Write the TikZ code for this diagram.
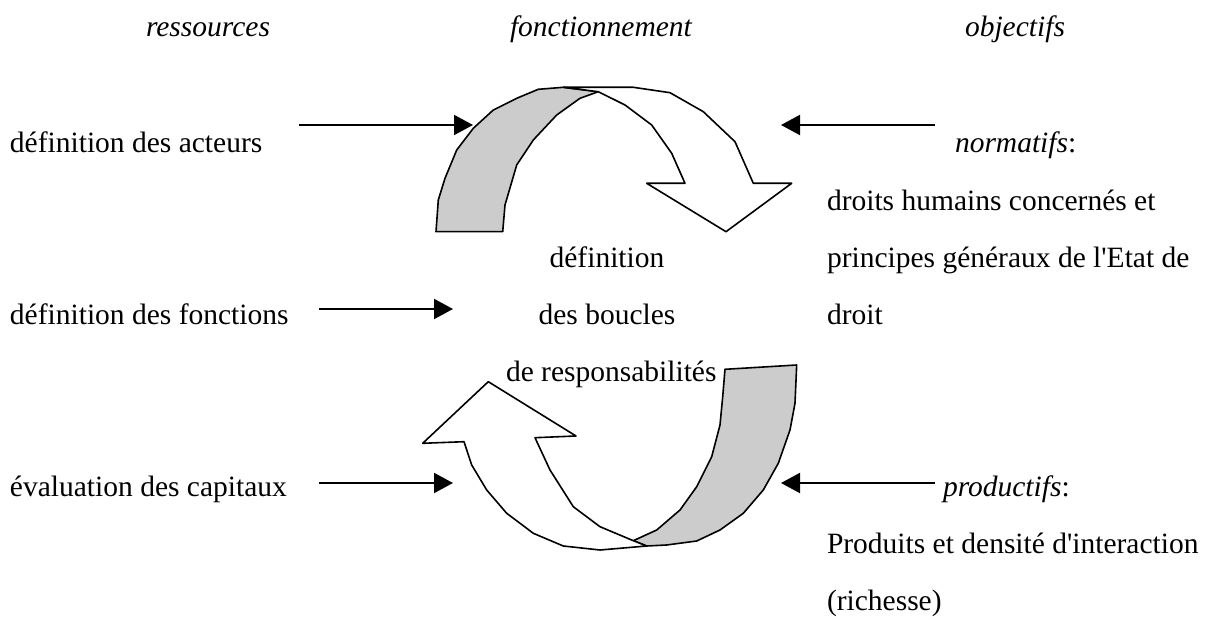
\documentclass[tikz,border=0pt]{standalone}
\usepackage{fontspec}
\setmainfont{Liberation Serif}
\usetikzlibrary{arrows.meta}
\definecolor{bandgrey}{HTML}{CCCCCC}
\begin{document}
\begin{tikzpicture}[x=0.5pt,y=-0.5pt,
  font=\fontsize{14.75}{17}\selectfont,
  txt/.style={inner sep=0pt, outer sep=0pt},
  conn/.style={line width=1pt, -{Triangle[length=9.5pt,width=10pt]}},
  band/.style={draw=black, line width=0.8pt, line join=round}]
\useasboundingbox (0,0) rectangle (1207,620);

% upper twisted arrow
\filldraw[band, fill=bandgrey] (436,231.7) -- (438.3,200) -- (445,178.3) -- (456.7,150) -- (473.3,128.3)
  -- (493.3,110) -- (516.7,98.3) -- (538.3,89.3) -- (563.3,87.3) -- (598.3,91.7) -- (580,98.3)
  -- (556.7,115) -- (533.3,140) -- (516.7,165) -- (505,205) -- (502.7,231.7) -- cycle;
\filldraw[band, fill=white] (563.3,87.3) -- (633.3,87.3) -- (670,92.7) -- (703.3,111.7) -- (735,141.7)
  -- (753.3,183.3) -- (791.7,183.3) -- (726,231.7) -- (646.7,183.3) -- (685,183.3) -- (671.7,153.3)
  -- (651.7,125) -- (625,105) -- (598.3,91.7) -- cycle;

% lower twisted arrow
\filldraw[band, fill=bandgrey] (725,369.3) -- (796.7,365) -- (795,403.3) -- (790,430) -- (778.3,463.3)
  -- (763.3,490) -- (743.3,513.3) -- (720,530) -- (696.7,541) -- (666.7,545) -- (646.7,546)
  -- (633.3,540.7) -- (656.7,530) -- (680,510) -- (696.7,486.7) -- (711.7,456.7) -- (720,425)
  -- (722.7,396.7) -- cycle;
\filldraw[band, fill=white] (488.3,381.7) -- (576,436) -- (535,437.7) -- (550,470) -- (573.3,506.7)
  -- (600,526.7) -- (633.3,540.7) -- (646.7,546) -- (600,550) -- (563.3,546) -- (533.3,533.3)
  -- (506.7,513.3) -- (486.7,490) -- (471.7,465) -- (464,441.7) -- (422.7,443.3) -- cycle;

% headers
\node[txt, anchor=base] (hres) at (208,37) {\itshape ressources};
\node[txt, anchor=base west] (hfon) at (510,37) {\itshape fonctionnement};
\node[txt, anchor=base] (hobj) at (1015,37) {\itshape objectifs};

% left column
\node[txt, anchor=base west] (acteurs) at (10,153) {définition des acteurs};
\node[txt, anchor=base west] (fonctions) at (10,325) {définition des fonctions};
\node[txt, anchor=base west] (capitaux) at (10,497) {évaluation des capitaux};

% centre
\node[txt, anchor=base] (c1) at (607,268) {définition};
\node[txt, anchor=base] (c2) at (607,325) {des boucles};
\node[txt, anchor=base west] (c3) at (506,382) {de responsabilités};

% right column
\node[txt, anchor=base west] (norm) at (955,153) {\textit{normatifs}:};
\node[txt, anchor=base west] (r1) at (827,211) {droits humains concernés et};
\node[txt, anchor=base west] (r2) at (827,268) {principes généraux de l\textquotesingle Etat de};
\node[txt, anchor=base west] (r3) at (827,325) {droit};
\node[txt, anchor=base west] (prod) at (943,497) {\textit{productifs}:};
\node[txt, anchor=base west] (r4) at (827,554) {Produits et densité d\textquotesingle interaction};
\node[txt, anchor=base west] (r5) at (827,611) {(richesse)};

% connectors
\coordinate (a1s) at (299,125); \coordinate (a1e) at (473,125);
\coordinate (a2s) at (319,309); \coordinate (a2e) at (453,309);
\coordinate (a3s) at (319,483); \coordinate (a3e) at (453,483);
\coordinate (a4s) at (935,125); \coordinate (a4e) at (781,125);
\coordinate (a5s) at (935,483); \coordinate (a5e) at (781,483);
\draw[conn] (a1s) -- (a1e);
\draw[conn] (a2s) -- (a2e);
\draw[conn] (a3s) -- (a3e);
\draw[conn] (a4s) -- (a4e);
\draw[conn] (a5s) -- (a5e);
\end{tikzpicture}
\end{document}
